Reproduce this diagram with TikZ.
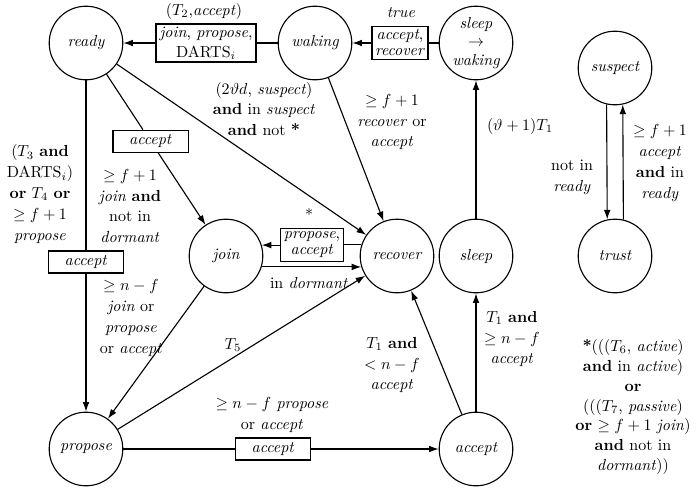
\documentclass[tikz,border=0pt]{standalone}
\usetikzlibrary{arrows.meta}
\begin{document}
\begin{tikzpicture}[x=0.625pt,y=-0.625pt,
  every node/.style={font=\fontsize{10}{13}\selectfont},
  state/.style={draw, circle, line width=0.7pt, minimum size=46pt, inner sep=0pt,
    font=\fontsize{10}{11.5}\selectfont\itshape, align=center},
  lab/.style={align=center, inner sep=0pt},
  tbox/.style={draw, fill=white, line width=0.7pt, inner sep=1.2pt, align=center,
    font=\fontsize{10}{10}\selectfont},
  abox/.style={tbox, minimum width=46.9pt, minimum height=13.75pt},
  conn/.style={line width=0.7pt},
  arr/.style={conn, -{Latex[length=6pt,width=4.2pt]}},
]
\path[use as bounding box] (0,0) rectangle (697,494);

% states
\node[state] (ready) at (86,43) {ready};
\node[state] (waking) at (315,43) {waking};
\node[state] (sw) at (476,43) {sleep\\$\rightarrow$\\waking};
\node[state] (suspect) at (615,68) {suspect};
\node[state] (join) at (226,256) {join};
\node[state] (recover) at (397,256) {recover};
\node[state] (sleep) at (476,256) {sleep};
\node[state] (trust) at (615,256) {trust};
\node[state] (propose) at (86,449) {propose};
\node[state] (accept) at (476,449) {accept};

% message boxes
\node[tbox, font=\fontsize{10}{12.5}\selectfont, minimum width=62.5pt, minimum height=23.75pt] (b1) at (206,43) {\textit{join}, \textit{propose},\\DARTS$_i$};
\node[tbox, minimum width=35pt, minimum height=20.6pt] (b2) at (400,43) {\textit{accept},\\\textit{recover}};
\node[tbox, minimum width=39.4pt, minimum height=20.6pt] (b3) at (312,245) {\textit{propose},\\\textit{accept}};
\path (ready) -- (join) node[pos=0.445, abox] (b4) {\textit{accept}};
\node[abox] (b5) at (86,262) {\textit{accept}};
\node[abox] (b6) at (273,449) {\textit{accept}};

% connectors
\draw[conn] (waking) -- (b1); \draw[arr] (b1) -- (ready);
\draw[conn] (sw) -- (b2); \draw[arr] (b2) -- (waking);
\draw[arr] (sleep) -- (sw);
\draw[arr] (suspect.257.5) -- (trust.102.5);
\draw[arr] (trust.77.5) -- (suspect.282.5);
\draw[conn] (ready) -- (b5); \draw[arr] (b5) -- (propose);
\draw[conn] (ready) -- (b4); \draw[arr] (b4) -- (join);
\draw[arr] (ready) -- (recover);
\draw[arr] (waking) -- (recover);
\draw[conn] (recover.162.7) -- (recover.162.7 -| b3.east);
\draw[arr] (b3.west |- join.17.3) -- (join.17.3);
\draw[arr] (join.-17.3) -- (recover.197.3);
\draw[arr] (join) -- (propose);
\draw[arr] (propose) -- (recover);
\draw[conn] (propose) -- (b6); \draw[arr] (b6) -- (accept);
\draw[arr] (accept) -- (sleep);
\draw[arr] (accept) -- (recover);

% labels
\node[lab] at (204,11) {$(T_2$,\textit{accept}$)$};
\node[lab] at (401,13) {\textit{true}};
\node[lab] at (520,126) {$(\vartheta+1)T_1$};
\node[lab] at (572,177) {not in\\\textit{ready}};
\node[lab] at (660,163) {$\geq f+1$\\\textit{accept}\\\textbf{and} in\\\textit{ready}};
\node[lab] at (40,194) {$(T_3$ \textbf{and}\\DARTS$_i)$\\\textbf{or} $T_4$ \textbf{or}\\$\geq f+1$\\\textit{propose}};
\node[lab] at (130,206) {$\geq f+1$\\\textit{join} \textbf{and}\\not in\\\textit{dormant}};
\node[lab] at (131,318) {$\geq n-f$\\\textit{join} or\\\textit{propose}\\or \textit{accept}};
\node[lab] at (264,109) {$(2\vartheta d$, \textit{suspect}$)$\\\textbf{and} in \textit{suspect}\\\textbf{and} not \textbf{*}};
\node[lab] at (392,122) {$\geq f+1$\\\textit{recover} or\\\textit{accept}};
\node[lab] at (309,214) {*};
\node[lab] at (309,283) {in \textit{dormant}};
\node[lab] at (233,345) {$T_5$};
\node[lab] at (272,415) {$\geq n-f$ \textit{propose}\\or \textit{accept}};
\node[lab] at (512,339) {$T_1$ \textbf{and}\\$\geq n-f$\\\textit{accept}};
\node[lab] at (392,365) {$T_1$ \textbf{and}\\$<n-f$\\\textit{accept}};
\node[lab, font=\fontsize{10}{12.4}\selectfont] at (633,407) {\textbf{*}$(((T_6$, \textit{active}$)$\\\textbf{and} in \textit{active}$)$\\\textbf{or}\\$(((T_7$, \textit{passive}$)$\\\textbf{or} $\geq f+1$ \textit{join}$)$\\\textbf{and} not in\\\textit{dormant}$))$};
\end{tikzpicture}
\end{document}
